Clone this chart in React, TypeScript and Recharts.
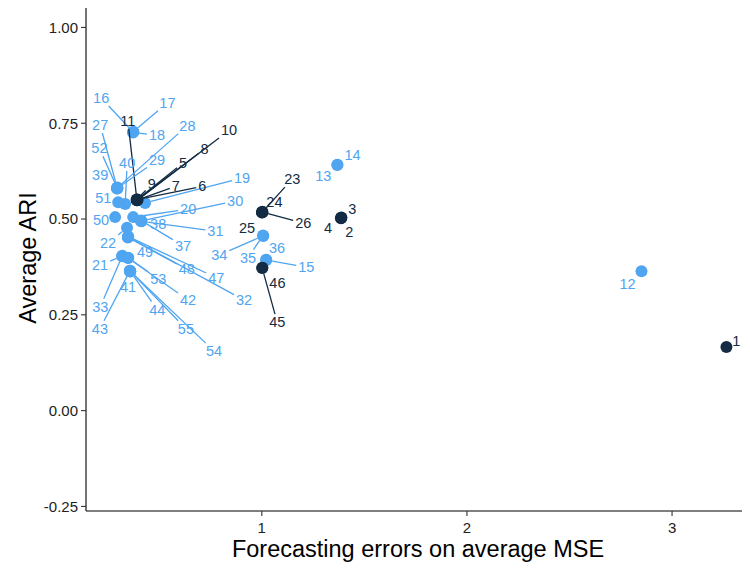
import React from 'react';
import { ScatterChart, Scatter, XAxis, YAxis, ReferenceLine } from 'recharts';

// model ids, forecasting error (avg MSE) and clustering score (avg ARI)
const pointIds = [
  1, 2, 3, 4, 5, 6, 7, 8, 9, 10, 11, 12, 13, 14, 15, 16, 17, 18, 19, 20,
  21, 22, 23, 24, 25, 26, 27, 28, 29, 30, 31, 32, 33, 34, 35, 36, 37, 38, 39, 40,
  41, 42, 43, 44, 45, 46, 47, 48, 49, 50, 51, 52, 53, 54, 55,
];
const mseValues = [
  3.265, 1.387, 1.388, 1.386, 0.392, 0.393, 0.391, 0.394, 0.390, 0.392, 0.391, 2.851, 1.368, 1.369, 1.022, 0.373, 0.374, 0.372, 0.431, 0.373,
  0.319, 0.343, 1.002, 1.003, 1.001, 1.002, 0.295, 0.296, 0.294, 0.412, 0.413, 0.348, 0.320, 1.007, 1.006, 1.021, 0.411, 0.412, 0.295, 0.334,
  0.358, 0.348, 0.357, 0.359, 1.002, 1.003, 0.349, 0.347, 0.348, 0.285, 0.300, 0.296, 0.349, 0.358, 0.357,
];
const ariValues = [
  0.166, 0.503, 0.504, 0.502, 0.550, 0.551, 0.549, 0.550, 0.551, 0.549, 0.550, 0.364, 0.641, 0.642, 0.393, 0.727, 0.728, 0.726, 0.542, 0.505,
  0.403, 0.477, 0.518, 0.519, 0.517, 0.518, 0.581, 0.582, 0.580, 0.495, 0.494, 0.453, 0.404, 0.456, 0.457, 0.394, 0.496, 0.495, 0.581, 0.539,
  0.364, 0.398, 0.365, 0.363, 0.372, 0.373, 0.454, 0.452, 0.453, 0.505, 0.544, 0.580, 0.399, 0.364, 0.365,
];
// models drawn in the dark colour
const highlightedIds = [1, 2, 3, 4, 5, 6, 7, 8, 9, 10, 11, 23, 24, 25, 26, 45, 46];

const xTicks = [1, 2, 3];
const yTicks = [-0.25, 0, 0.25, 0.5, 0.75, 1];

// repelled label placement, px offset from the point
const labelOffsets: Record<number, [number, number]> = {
  1: [10, -6], 2: [8, 14], 3: [11, -9], 4: [-13, 10], 5: [46, -37], 6: [65, -13], 7: [39, -14], 8: [67, -51],
  9: [15, -15], 10: [92, -70], 11: [-9, -79], 12: [-14, 13], 13: [-14, 11], 14: [15, -10], 15: [40, 7],
  16: [-32, -34], 17: [34, -29], 18: [24, 3], 19: [97, -25], 20: [55, -8], 21: [-22, 9], 22: [-19, 15],
  23: [30, -33], 24: [12, -10], 25: [-15, 15], 26: [41, 11], 27: [-17, -63], 28: [70, -62], 29: [40, -28],
  30: [94, -20], 31: [74, 10], 32: [116, 63], 33: [-22, 51], 34: [-44, 19], 35: [-15, 22], 36: [11, -12],
  37: [42, 25], 38: [17, 3], 39: [-17, -13], 40: [2, -41], 41: [-2, 16], 42: [60, 42], 43: [-30, 58],
  44: [27, 38], 45: [15, 54], 46: [15, 15], 47: [88, 41], 48: [59, 32], 49: [17, 15], 50: [-14, 3],
  51: [-15, -4], 52: [-18, -40], 53: [30, 21], 54: [84, 80], 55: [56, 58],
};

const DARK = '#132B43';
const LIGHT = '#4FA5F0';
const FONT = '"Liberation Sans", Arial, sans-serif';
const LABEL_SIZE = 14.5;
const POINT_R = 6;

const data = pointIds.map((id, i) => ({
  id,
  mse: mseValues[i],
  ari: ariValues[i],
  dark: highlightedIds.includes(id),
}));
const lightData = data.filter(d => !d.dark);
const darkData = data.filter(d => d.dark);

function Dot(props: any) {
  const { cx, cy, payload } = props;
  return <circle cx={cx} cy={cy} r={POINT_R} fill={payload.dark ? DARK : LIGHT} />;
}

function Segment(props: any) {
  const { cx, cy, payload } = props;
  const [dx, dy] = labelOffsets[payload.id] || [0, 0];
  const dist = Math.hypot(dx, dy);
  if (dist === 0) return <g />;
  const ux = dx / dist;
  const uy = dy / dist;
  const halfW = (String(payload.id).length * LABEL_SIZE * 0.556) / 2 + 2;
  const halfH = 8;
  const tBox = Math.min(ux ? halfW / Math.abs(ux) : Infinity, uy ? halfH / Math.abs(uy) : Infinity);
  const end = dist - tBox;
  if (end - POINT_R < 5) return <g />;
  return (
    <line
      x1={cx + ux * POINT_R}
      y1={cy + uy * POINT_R}
      x2={cx + ux * end}
      y2={cy + uy * end}
      stroke={payload.dark ? DARK : LIGHT}
      strokeWidth={1.3}
    />
  );
}

function PointLabel(props: any) {
  const { cx, cy, payload } = props;
  const [dx, dy] = labelOffsets[payload.id] || [0, 0];
  return (
    <text
      x={cx + dx}
      y={cy + dy}
      textAnchor="middle"
      dominantBaseline="central"
      fontSize={LABEL_SIZE}
      fontFamily={FONT}
      fill={payload.dark ? DARK : LIGHT}
    >
      {payload.id}
    </text>
  );
}

function YTitle() {
  return (
    <text x={28} y={258} transform="rotate(-90, 28, 258)" textAnchor="middle" dominantBaseline="central"
      fontSize={23.5} fontFamily={FONT} fill="#000">
      Average ARI
    </text>
  );
}

function XTitle() {
  return (
    <text x={418} y={549} textAnchor="middle" dominantBaseline="central" fontSize={23.5} fontFamily={FONT} fill="#000">
      Forecasting errors on average MSE
    </text>
  );
}

const Y_MIN = -0.262;
const Y_MAX = 1.056;

export default function App() {
  const tickStyle = { fontSize: 15, fill: '#222', fontFamily: FONT };
  return (
    <div style={{ margin: -8, width: 750, height: 570, background: '#fff' }}>
      <ScatterChart width={750} height={570} margin={{ top: 6, right: 0, bottom: 0, left: 0 }}>
        <XAxis
          type="number"
          dataKey="mse"
          domain={[0.143, 3.38]}
          ticks={xTicks}
          allowDataOverflow
          height={59}
          tickSize={5}
          tickMargin={6}
          tick={tickStyle}
          axisLine={{ stroke: '#000', strokeWidth: 1.1 }}
          tickLine={{ stroke: '#333', strokeWidth: 1.1 }}
          label={<XTitle />}
        />
        <YAxis
          type="number"
          dataKey="ari"
          domain={[Y_MIN, Y_MAX]}
          ticks={yTicks}
          allowDataOverflow
          width={86}
          tickSize={5}
          tickMargin={3}
          tick={tickStyle}
          tickFormatter={(v: number) => v.toFixed(2)}
          axisLine={{ stroke: '#000', strokeWidth: 1.1 }}
          tickLine={{ stroke: '#333', strokeWidth: 1.1 }}
          label={<YTitle />}
        />
        <ReferenceLine y={Y_MAX} stroke="#000" strokeWidth={1.1} />
        <Scatter data={lightData} shape={Dot} isAnimationActive={false} />
        <Scatter data={darkData} shape={Dot} isAnimationActive={false} />
        <Scatter data={data} shape={Segment} isAnimationActive={false} />
        <Scatter data={data} shape={PointLabel} isAnimationActive={false} />
      </ScatterChart>
    </div>
  );
}
